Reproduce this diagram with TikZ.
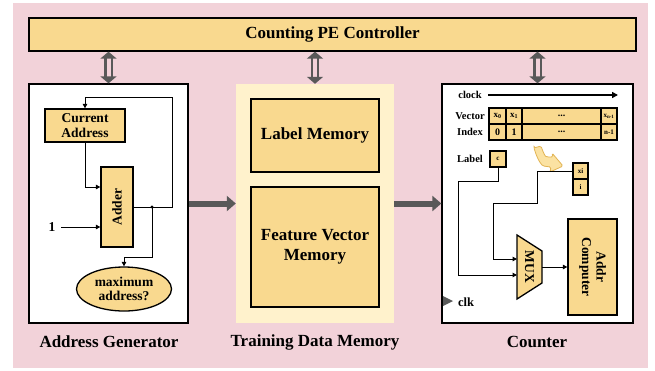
\documentclass[tikz,border=0pt]{standalone}
\usepackage{fontspec}
\setmainfont{Liberation Serif}
\usetikzlibrary{arrows.meta,shapes.geometric,calc}
\definecolor{pinkbg}{HTML}{F2D2D9}
\definecolor{boxy}{HTML}{F9D98F}
\definecolor{lighty}{HTML}{FFF2CC}
\definecolor{darkg}{HTML}{595959}
\definecolor{curvfill}{HTML}{FBE2A2}
\definecolor{curvline}{HTML}{E2B454}
\newcommand{\fs}[1]{\fontsize{#1}{#1}\selectfont\bfseries}
\tikzset{
  ybox/.style={draw, line width=1.3pt, fill=boxy, inner sep=0pt, align=center},
  wbox/.style={draw, line width=1.3pt, fill=white, inner sep=0pt},
  cell/.style={draw, line width=1.1pt, fill=boxy, inner sep=0pt, align=center},
  wire/.style={line width=1pt, -{Triangle[length=4.5pt,width=4.5pt]}},
  bigarrow/.style={draw=darkg, line width=6pt, -{Triangle[length=9pt,width=15pt]}},
  dblarrow/.style={draw=darkg, double=pinkbg, double distance=4pt, line width=2.2pt,
     {Triangle[length=7pt,width=16pt]}-{Triangle[length=7pt,width=16pt]}},
  lbl/.style={inner sep=0pt, font=\fs{17}},
}
\begin{document}
\begin{tikzpicture}[x=1pt,y=-1pt]
\useasboundingbox (0,0) rectangle (655,370);
\fill[white] (0,0) rectangle (655,370);
\fill[pinkbg] (13,3) rectangle (648,368);

% controller
\node[ybox, minimum width=607pt, minimum height=33pt, font=\fs{17}] (ctrl) at (332.5,34.5) {Counting PE Controller};

% address generator
\node[wbox, minimum width=159pt, minimum height=239pt] (ag) at (108.5,203.5) {};
\node[ybox, minimum width=80pt, minimum height=33pt, font=\fs{13.5}] (cur) at (85,125.5) {Current\\[1pt]Address};
\node[ybox, minimum width=32pt, minimum height=80pt] (add) at (117,207) {};
\node[rotate=90, inner sep=0pt, font=\fs{13.5}] at (add.center) {Adder};
\node[ellipse, draw, line width=1.3pt, fill=boxy, minimum width=95pt, minimum height=44pt, inner sep=0pt, align=center, font=\fs{13.5}] (maxa) at (124,289) {maximum\\[1pt]address?};
\node[inner sep=0pt, font=\fs{13.5}] (one) at (52,227) {1};
\coordinate (onestart) at (61,227);
\coordinate (dot) at (152,207);
\draw[wire] (add.east) -- ++(39,0) |- (85,97) -- (cur.north);
\draw[wire] (cur.south) |- (add.west |- 0,187);
\draw[wire] (onestart) -- (add.west |- one);
\fill (dot) circle (1.6pt);
\draw[wire] (dot) |- (124,257) -- (maxa.north);
\node[lbl] (agl) at (109,342) {Address Generator};

% training data memory
\node[fill=lighty, minimum width=158pt, minimum height=239pt, inner sep=0pt] (tdm) at (315,203.5) {};
\node[ybox, minimum width=128pt, minimum height=73pt, font=\fs{17}] (lm) at (315,135.5) {Label Memory};
\node[ybox, minimum width=128pt, minimum height=120pt, font=\fs{17}] (fvm) at (315,247) {Feature Vector\\[3pt]Memory};
\node[lbl] (tdml) at (315,342) {Training Data Memory};

% counter
\node[wbox, minimum width=191pt, minimum height=239pt] (cnt) at (537.5,203.5) {};
\node[inner sep=0pt, font=\fs{10.5}] (clock) at (470,95) {clock};
\coordinate (clks) at (488,95);
\coordinate (clke) at (618,95);
\draw[line width=1.8pt, -{Triangle[length=6pt,width=6pt]}] (clks) -- (clke);
\node[inner sep=0pt, font=\fs{10.5}] (vecl) at (470,116) {Vector};
\node[inner sep=0pt, font=\fs{10.5}] (idxl) at (470,132) {Index};
\node[cell, minimum width=17pt, minimum height=16pt, font=\fs{9}] (v0) at (497.5,116) {x\textsubscript{0}};
\node[cell, minimum width=16pt, minimum height=16pt, font=\fs{9}] (v1) at (514,116) {x\textsubscript{1}};
\node[cell, minimum width=79pt, minimum height=16pt, font=\fs{10}] (vd) at (561.5,116) {...};
\node[cell, minimum width=16pt, minimum height=16pt, font=\fs{7}] (vn) at (609,116) {x\textsubscript{n-1}};
\node[cell, minimum width=17pt, minimum height=16pt, font=\fs{10}] (i0) at (497.5,132) {0};
\node[cell, minimum width=16pt, minimum height=16pt, font=\fs{10}] (i1) at (514,132) {1};
\node[cell, minimum width=79pt, minimum height=16pt, font=\fs{10}] (id) at (561.5,132) {...};
\node[cell, minimum width=16pt, minimum height=16pt, font=\fs{7}] (in) at (609,132) {n-1};
\node[inner sep=0pt, font=\fs{10.5}] (labl) at (470,159) {Label};
\node[cell, minimum width=16pt, minimum height=16pt, font=\fs{7}] (cb) at (498,159) {c};
\node[cell, minimum width=15pt, minimum height=16pt, font=\fs{7}] (xi) at (580.5,171) {xi};
\node[cell, minimum width=15pt, minimum height=16pt, font=\fs{7}] (ib) at (580.5,187) {i};
% curved arrow
\draw[curvline, fill=curvfill, line width=0.8pt, rounded corners=1.5pt]
  (534,148) -- (541,146) .. controls (543,152) and (545,156) .. (547,157)
  -- (553,157) -- (552,153) -- (563,166) -- (550,172) -- (551,167)
  -- (543,166) .. controls (539,162) and (536,155) .. cycle;
% MUX
\draw[line width=1.3pt, fill=boxy] (517,235) -- (542,251) -- (542,283) -- (517,299) -- cycle;
\node[rotate=-90, inner sep=0pt, font=\fs{13.5}] (mux) at (529.5,267) {MUX};
\coordinate (muxout) at (542,267);
\node[ybox, minimum width=49pt, minimum height=96pt] (ac) at (592.5,267) {};
\node[rotate=-90, inner sep=0pt, font=\fs{13.5}, align=center] at (ac.center) {Addr\\[1pt]Computer};
\draw[wire] (cb.south) -- (498,181) -| (458,275) -- (517,275);
\draw[wire] (xi.west) -| (537,203) -| (493,259) -- (517,259);
\draw[wire] (muxout) -- (ac.west);
\fill[darkg] (443,296) -- (453,301) -- (443,306) -- cycle;
\node[inner sep=0pt, font=\fs{12.5}] (clk) at (466,302) {clk};
\node[lbl] (cntl) at (537,342) {Counter};

% big arrows
\draw[bigarrow] (ag.east) -- (tdm.west);
\draw[bigarrow] (tdm.east) -- (cnt.west);
% double arrows
\draw[dblarrow] (ctrl.south -| ag.north) -- (ag.north);
\draw[dblarrow] (ctrl.south -| tdm.north) -- (tdm.north);
\draw[dblarrow] (ctrl.south -| cnt.north) -- (cnt.north);
\end{tikzpicture}
\end{document}
